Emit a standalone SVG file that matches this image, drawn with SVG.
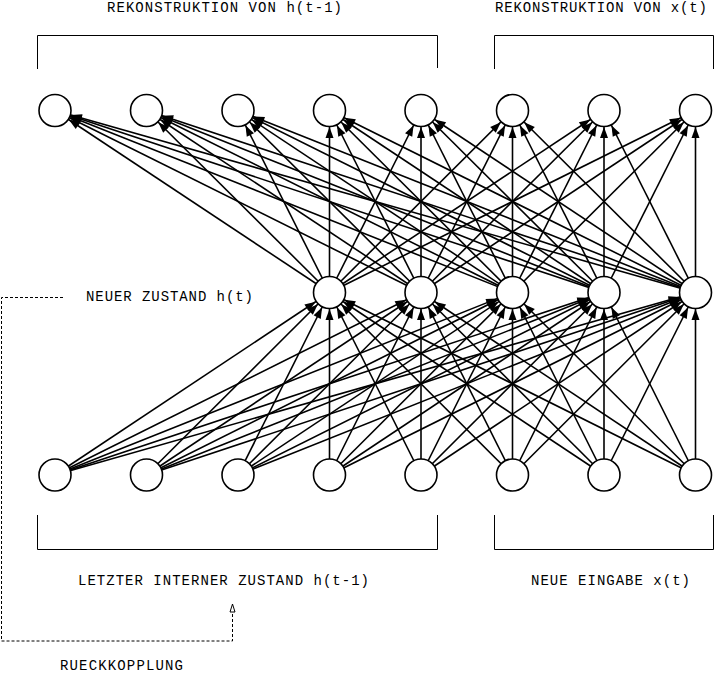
<svg xmlns="http://www.w3.org/2000/svg" width="715" height="675" viewBox="0 0 715 675">
<style>
.n{fill:#fff;stroke:#000;stroke-width:1.6}
.e{stroke:#000;stroke-width:1.6;fill:none;marker-end:url(#ah)}
.br{stroke:#000;stroke-width:1;fill:none}
.t{font-family:"Liberation Mono","Courier New",monospace;font-size:14px;fill:#000}
</style>
<defs>
<marker id="ah" markerUnits="userSpaceOnUse" markerWidth="40" markerHeight="40" refX="16.5" refY="0" orient="auto" overflow="visible" viewBox="-20 -20 40 40">
<path d="M0 0 L-11 -4 L-11 4 Z" fill="#000"/>
</marker>
<marker id="ah2" markerUnits="userSpaceOnUse" markerWidth="20" markerHeight="20" refX="0" refY="0" orient="auto" overflow="visible" viewBox="-10 -10 20 20">
<path d="M0 0 L-8 -2.5 L-8 2.5 Z" fill="#fff" stroke="#000" stroke-width="1"/>
</marker>
</defs>
<rect width="715" height="675" fill="#fff"/>
<g id="labels">
<text class="t" x="107" y="12" textLength="235">REKONSTRUKTION VON h(t-1)</text>
<text class="t" x="495" y="12" textLength="212">REKONSTRUKTION VON x(t)</text>
<text class="t" x="86" y="301" textLength="167">NEUER ZUSTAND h(t)</text>
<text class="t" x="78" y="585" textLength="291">LETZTER INTERNER ZUSTAND h(t-1)</text>
<text class="t" x="531" y="585" textLength="159">NEUE EINGABE x(t)</text>
<text class="t" x="60" y="670" textLength="123">RUECKKOPPLUNG</text>
</g>
<g id="brackets">
<path class="br" d="M37.5 69 V35.5 H437.5 V68"/>
<path class="br" d="M494.5 69 V35.5 H713.5 V69"/>
<path class="br" d="M37.5 515 V549.5 H437.5 V515"/>
<path class="br" d="M494.5 515 V549.5 H713.5 V515"/>
</g>
<g id="feedback">
<path d="M63 297.5 H1.5 V641 H232.5 V604" fill="none" stroke="#000" stroke-width="1" stroke-dasharray="3,2" marker-end="url(#ah2)"/>
</g>
<g id="connectors">
<line class="e" x1="55" y1="475" x2="329.5" y2="292.5"/>
<line class="e" x1="55" y1="475" x2="421" y2="292.5"/>
<line class="e" x1="55" y1="475" x2="512.5" y2="292.5"/>
<line class="e" x1="55" y1="475" x2="604" y2="292.5"/>
<line class="e" x1="55" y1="475" x2="695.5" y2="292.5"/>
<line class="e" x1="146.5" y1="475" x2="329.5" y2="292.5"/>
<line class="e" x1="146.5" y1="475" x2="421" y2="292.5"/>
<line class="e" x1="146.5" y1="475" x2="512.5" y2="292.5"/>
<line class="e" x1="146.5" y1="475" x2="604" y2="292.5"/>
<line class="e" x1="146.5" y1="475" x2="695.5" y2="292.5"/>
<line class="e" x1="238" y1="475" x2="329.5" y2="292.5"/>
<line class="e" x1="238" y1="475" x2="421" y2="292.5"/>
<line class="e" x1="238" y1="475" x2="512.5" y2="292.5"/>
<line class="e" x1="238" y1="475" x2="604" y2="292.5"/>
<line class="e" x1="238" y1="475" x2="695.5" y2="292.5"/>
<line class="e" x1="329.5" y1="475" x2="329.5" y2="292.5"/>
<line class="e" x1="329.5" y1="475" x2="421" y2="292.5"/>
<line class="e" x1="329.5" y1="475" x2="512.5" y2="292.5"/>
<line class="e" x1="329.5" y1="475" x2="604" y2="292.5"/>
<line class="e" x1="329.5" y1="475" x2="695.5" y2="292.5"/>
<line class="e" x1="421" y1="475" x2="329.5" y2="292.5"/>
<line class="e" x1="421" y1="475" x2="421" y2="292.5"/>
<line class="e" x1="421" y1="475" x2="512.5" y2="292.5"/>
<line class="e" x1="421" y1="475" x2="604" y2="292.5"/>
<line class="e" x1="421" y1="475" x2="695.5" y2="292.5"/>
<line class="e" x1="512.5" y1="475" x2="329.5" y2="292.5"/>
<line class="e" x1="512.5" y1="475" x2="421" y2="292.5"/>
<line class="e" x1="512.5" y1="475" x2="512.5" y2="292.5"/>
<line class="e" x1="512.5" y1="475" x2="604" y2="292.5"/>
<line class="e" x1="512.5" y1="475" x2="695.5" y2="292.5"/>
<line class="e" x1="604" y1="475" x2="329.5" y2="292.5"/>
<line class="e" x1="604" y1="475" x2="421" y2="292.5"/>
<line class="e" x1="604" y1="475" x2="512.5" y2="292.5"/>
<line class="e" x1="604" y1="475" x2="604" y2="292.5"/>
<line class="e" x1="604" y1="475" x2="695.5" y2="292.5"/>
<line class="e" x1="695.5" y1="475" x2="329.5" y2="292.5"/>
<line class="e" x1="695.5" y1="475" x2="421" y2="292.5"/>
<line class="e" x1="695.5" y1="475" x2="512.5" y2="292.5"/>
<line class="e" x1="695.5" y1="475" x2="604" y2="292.5"/>
<line class="e" x1="695.5" y1="475" x2="695.5" y2="292.5"/>
<line class="e" x1="329.5" y1="292.5" x2="55" y2="110.5"/>
<line class="e" x1="329.5" y1="292.5" x2="146.5" y2="110.5"/>
<line class="e" x1="329.5" y1="292.5" x2="238" y2="110.5"/>
<line class="e" x1="329.5" y1="292.5" x2="329.5" y2="110.5"/>
<line class="e" x1="329.5" y1="292.5" x2="421" y2="110.5"/>
<line class="e" x1="329.5" y1="292.5" x2="512.5" y2="110.5"/>
<line class="e" x1="329.5" y1="292.5" x2="604" y2="110.5"/>
<line class="e" x1="329.5" y1="292.5" x2="695.5" y2="110.5"/>
<line class="e" x1="421" y1="292.5" x2="55" y2="110.5"/>
<line class="e" x1="421" y1="292.5" x2="146.5" y2="110.5"/>
<line class="e" x1="421" y1="292.5" x2="238" y2="110.5"/>
<line class="e" x1="421" y1="292.5" x2="329.5" y2="110.5"/>
<line class="e" x1="421" y1="292.5" x2="421" y2="110.5"/>
<line class="e" x1="421" y1="292.5" x2="512.5" y2="110.5"/>
<line class="e" x1="421" y1="292.5" x2="604" y2="110.5"/>
<line class="e" x1="421" y1="292.5" x2="695.5" y2="110.5"/>
<line class="e" x1="512.5" y1="292.5" x2="55" y2="110.5"/>
<line class="e" x1="512.5" y1="292.5" x2="146.5" y2="110.5"/>
<line class="e" x1="512.5" y1="292.5" x2="238" y2="110.5"/>
<line class="e" x1="512.5" y1="292.5" x2="329.5" y2="110.5"/>
<line class="e" x1="512.5" y1="292.5" x2="421" y2="110.5"/>
<line class="e" x1="512.5" y1="292.5" x2="512.5" y2="110.5"/>
<line class="e" x1="512.5" y1="292.5" x2="604" y2="110.5"/>
<line class="e" x1="512.5" y1="292.5" x2="695.5" y2="110.5"/>
<line class="e" x1="604" y1="292.5" x2="55" y2="110.5"/>
<line class="e" x1="604" y1="292.5" x2="146.5" y2="110.5"/>
<line class="e" x1="604" y1="292.5" x2="238" y2="110.5"/>
<line class="e" x1="604" y1="292.5" x2="329.5" y2="110.5"/>
<line class="e" x1="604" y1="292.5" x2="421" y2="110.5"/>
<line class="e" x1="604" y1="292.5" x2="512.5" y2="110.5"/>
<line class="e" x1="604" y1="292.5" x2="604" y2="110.5"/>
<line class="e" x1="604" y1="292.5" x2="695.5" y2="110.5"/>
<line class="e" x1="695.5" y1="292.5" x2="55" y2="110.5"/>
<line class="e" x1="695.5" y1="292.5" x2="146.5" y2="110.5"/>
<line class="e" x1="695.5" y1="292.5" x2="238" y2="110.5"/>
<line class="e" x1="695.5" y1="292.5" x2="329.5" y2="110.5"/>
<line class="e" x1="695.5" y1="292.5" x2="421" y2="110.5"/>
<line class="e" x1="695.5" y1="292.5" x2="512.5" y2="110.5"/>
<line class="e" x1="695.5" y1="292.5" x2="604" y2="110.5"/>
<line class="e" x1="695.5" y1="292.5" x2="695.5" y2="110.5"/>
</g>
<g id="top1"><circle class="n" cx="55" cy="110.5" r="16"/></g>
<g id="top2"><circle class="n" cx="146.5" cy="110.5" r="16"/></g>
<g id="top3"><circle class="n" cx="238" cy="110.5" r="16"/></g>
<g id="top4"><circle class="n" cx="329.5" cy="110.5" r="16"/></g>
<g id="top5"><circle class="n" cx="421" cy="110.5" r="16"/></g>
<g id="top6"><circle class="n" cx="512.5" cy="110.5" r="16"/></g>
<g id="top7"><circle class="n" cx="604" cy="110.5" r="16"/></g>
<g id="top8"><circle class="n" cx="695.5" cy="110.5" r="16"/></g>
<g id="mid1"><circle class="n" cx="329.5" cy="292.5" r="16"/></g>
<g id="mid2"><circle class="n" cx="421" cy="292.5" r="16"/></g>
<g id="mid3"><circle class="n" cx="512.5" cy="292.5" r="16"/></g>
<g id="mid4"><circle class="n" cx="604" cy="292.5" r="16"/></g>
<g id="mid5"><circle class="n" cx="695.5" cy="292.5" r="16"/></g>
<g id="bot1"><circle class="n" cx="55" cy="475" r="16"/></g>
<g id="bot2"><circle class="n" cx="146.5" cy="475" r="16"/></g>
<g id="bot3"><circle class="n" cx="238" cy="475" r="16"/></g>
<g id="bot4"><circle class="n" cx="329.5" cy="475" r="16"/></g>
<g id="bot5"><circle class="n" cx="421" cy="475" r="16"/></g>
<g id="bot6"><circle class="n" cx="512.5" cy="475" r="16"/></g>
<g id="bot7"><circle class="n" cx="604" cy="475" r="16"/></g>
<g id="bot8"><circle class="n" cx="695.5" cy="475" r="16"/></g>
</svg>
